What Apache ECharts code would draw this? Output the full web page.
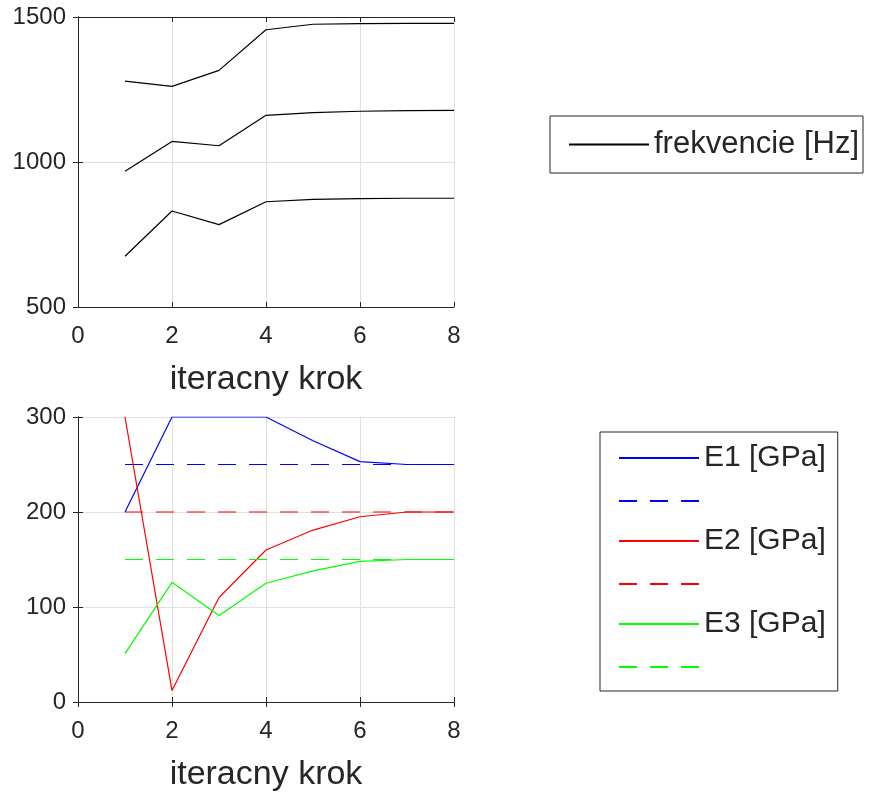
<!DOCTYPE html>
<html>
<head>
<meta charset="utf-8">
<script src="https://cdn.jsdelivr.net/npm/echarts@6/dist/echarts.min.js"></script>
<style>
html,body{margin:0;padding:0;background:#fff;}
#c{width:869px;height:793px;}
</style>
</head>
<body>
<div id="c"></div>
<script>
// ---- data ----
var steps = [1, 2, 3, 4, 5, 6, 7, 8];
var freq1 = [675, 831, 784, 863, 871, 874, 875, 875];
var freq2 = [968, 1071, 1056, 1161, 1170, 1175, 1177, 1178];
var freq3 = [1279, 1261, 1316, 1456, 1475, 1477, 1478, 1478];
var E1 = [200, 300, 300, 300, 275, 253, 250, 250];
var E1ref = [250, 250, 250, 250, 250, 250, 250, 250];
var E2 = [300, 12, 110, 160, 181, 195, 200, 200];
var E2ref = [200, 200, 200, 200, 200, 200, 200, 200];
var E3 = [51, 126, 91, 125, 138, 148, 150, 150];
var E3ref = [150, 150, 150, 150, 150, 150, 150, 150];
var freqName = 'frekvencie [Hz]';
var eNames = ['E1 [GPa]', 'E1 ref', 'E2 [GPa]', 'E2 ref', 'E3 [GPa]', 'E3 ref'];
var xName = 'iteracny krok';

function pairs(v) { return steps.map(function (s, i) { return [s, v[i]]; }); }

var FONT = 'Liberation Sans, Arial, Helvetica, sans-serif';
var AX = '#262626';
var GRIDC = '#e0e0e0';

function plain(v) { return String(v); }

function mainX(gi) {
  return {
    type: 'value', gridIndex: gi, min: 0, max: 8, interval: 2, position: 'bottom',
    name: xName, nameLocation: 'middle', nameGap: 56,
    nameTextStyle: { fontFamily: FONT, fontSize: 34, color: AX },
    axisLine: { show: true, lineStyle: { color: AX, width: 1 } },
    axisTick: { show: true, inside: true, length: 5, lineStyle: { color: AX } },
    axisLabel: { fontFamily: FONT, fontSize: 24, color: AX, margin: 17, formatter: plain },
    splitLine: { show: true, lineStyle: { color: GRIDC, width: 1 } }
  };
}
function boxX(gi) {
  return {
    type: 'value', gridIndex: gi, min: 0, max: 8, interval: 2, position: 'top',
    axisLine: { show: true, lineStyle: { color: AX, width: 1 } },
    axisTick: { show: true, inside: true, length: 5, lineStyle: { color: AX } },
    axisLabel: { show: false }, splitLine: { show: false }
  };
}
function mainY(gi, mn, mx, iv) {
  return {
    type: 'value', gridIndex: gi, min: mn, max: mx, interval: iv, position: 'left',
    axisLine: { show: true, lineStyle: { color: AX, width: 1 } },
    axisTick: { show: true, inside: true, length: 5, lineStyle: { color: AX } },
    axisLabel: { fontFamily: FONT, fontSize: 24, color: AX, margin: 12, formatter: plain, padding: [7, 0, 0, 0] },
    splitLine: { show: true, lineStyle: { color: GRIDC, width: 1 } }
  };
}
function boxY(gi, mn, mx, iv) {
  return {
    type: 'value', gridIndex: gi, min: mn, max: mx, interval: iv, position: 'right',
    axisLine: { show: true, lineStyle: { color: AX, width: 1 } },
    axisTick: { show: true, inside: true, length: 5, lineStyle: { color: AX } },
    axisLabel: { show: false }, splitLine: { show: false }
  };
}
function line(name, v, xi, yi, color, dashed) {
  return {
    type: 'line', name: name, data: pairs(v), xAxisIndex: xi, yAxisIndex: yi,
    symbol: 'none', silent: true,
    lineStyle: { color: color, width: 1.2, type: dashed ? [18, 13] : 'solid' },
    itemStyle: { color: color }
  };
}

var chart = echarts.init(document.getElementById('c'), null, { renderer: 'canvas' });
chart.setOption({
  animation: false,
  backgroundColor: '#fff',
  grid: [
    { left: 78, top: 17, width: 376, height: 290 },
    { left: 78, top: 417, width: 376, height: 288 }
  ],
  xAxis: [mainX(0), boxX(0), mainX(1), boxX(1)],
  yAxis: [mainY(0, 500, 1500, 500), boxY(0, 500, 1500, 500), mainY(1, 0, 300, 100), boxY(1, 0, 300, 100)],
  legend: [
    {
      data: [freqName], left: 550, top: 116, orient: 'vertical',
      padding: [13, 4, 13, 18], itemWidth: 80, itemHeight: 30,
      borderColor: AX, borderWidth: 1, backgroundColor: '#fff',
      itemStyle: { opacity: 0 },
      textStyle: { fontFamily: FONT, fontSize: 31, color: AX }
    },
    {
      data: eNames, left: 600, top: 432, orient: 'vertical',
      padding: [11, 12, 12, 18], itemWidth: 80, itemHeight: 30, itemGap: 13,
      borderColor: AX, borderWidth: 1, backgroundColor: '#fff',
      itemStyle: { opacity: 0 },
      textStyle: { fontFamily: FONT, fontSize: 30, color: AX },
      formatter: function (n) { return n.indexOf('ref') >= 0 ? '' : n; }
    }
  ],
  series: [
    line(freqName, freq1, 0, 0, '#000000', false),
    line('f2', freq2, 0, 0, '#000000', false),
    line('f3', freq3, 0, 0, '#000000', false),
    line(eNames[0], E1, 2, 2, '#0000ff', false),
    line(eNames[1], E1ref, 2, 2, '#0000ff', true),
    line(eNames[2], E2, 2, 2, '#ff0000', false),
    line(eNames[3], E2ref, 2, 2, '#ff0000', true),
    line(eNames[4], E3, 2, 2, '#00ff00', false),
    line(eNames[5], E3ref, 2, 2, '#00ff00', true)
  ]
});
</script>
</body>
</html>
